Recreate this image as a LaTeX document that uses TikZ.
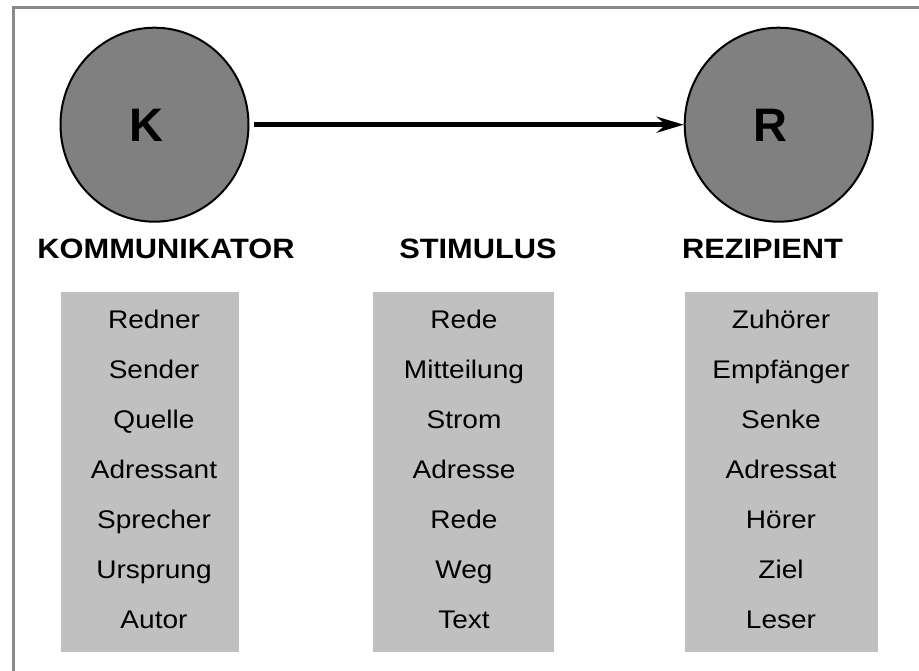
\documentclass[tikz,border=0pt]{standalone}
\usepackage{fontspec}
\setmainfont{Liberation Sans}[FakeStretch=1.1]
\newfontfamily\letterfont{Liberation Sans}
\usetikzlibrary{arrows.meta,shapes.geometric}
\definecolor{circgray}{HTML}{808080}
\definecolor{boxgray}{HTML}{C0C0C0}
\definecolor{framegray}{HTML}{8A8A8A}
\begin{document}
\begin{tikzpicture}[x=1pt,y=-1pt,
  agent/.style={ellipse, draw=black, line width=2pt, fill=circgray,
    minimum width=188pt, minimum height=194pt, inner sep=0pt},
  letter/.style={anchor=base, inner sep=0pt,
    font=\letterfont\bfseries\fontsize{47}{50}\selectfont},
  role/.style={anchor=base, inner sep=0pt,
    font=\bfseries\fontsize{28}{32}\selectfont},
  listbox/.style={rectangle, fill=boxgray, draw=none, inner sep=0pt,
    minimum height=360pt},
  item/.style={anchor=base, inner sep=0pt,
    font=\fontsize{25.5}{30}\selectfont},
  flow/.style={line width=4.5pt, -{Stealth[length=27pt,width=16pt,inset=9pt]}}
]
\useasboundingbox (0,0) rectangle (919,670);
\fill[white] (0,0) rectangle (919,670);

% frame (top and left edges only)
\coordinate (fa) at (13.3,672);
\coordinate (fb) at (13.3,7.5);
\coordinate (fc) at (921,7.5);
\draw[framegray, line width=3pt] (fa) -- (fb) -- (fc);

% agents
\node[agent] (K) at (154.5,124.7) {};
\node[agent] (R) at (778.7,124.7) {};
\node[letter] (Kl) at (146,141) {K};
\node[letter] (Rl) at (770,141) {R};
\draw[flow, shorten <=4pt] (K.east) -- (R.west);

% role labels
\node[role] (lk) at (166,258.3) {KOMMUNIKATOR};
\node[role] (ls) at (478,258.3) {STIMULUS};
\node[role] (lr) at (762.5,258.3) {REZIPIENT};

% boxes
\node[listbox, minimum width=178.6pt] (b1) at (150,472) {};
\node[listbox, minimum width=181.6pt] (b2) at (463.5,472) {};
\node[listbox, minimum width=192.7pt] (b3) at (781.3,472) {};

% items
\foreach \t [count=\i] in {Redner,Sender,Quelle,Adressant,Sprecher,Ursprung,Autor}
  \node[item] (a\i) at (154,{328.2+50*(\i-1)}) {\t};
\foreach \t [count=\i] in {Rede,Mitteilung,Strom,Adresse,Rede,Weg,Text}
  \node[item] (s\i) at (464,{328.2+50*(\i-1)}) {\t};
\foreach \t [count=\i] in {Zuhörer,Empfänger,Senke,Adressat,Hörer,Ziel,Leser}
  \node[item] (r\i) at (781,{328.2+50*(\i-1)}) {\t};
\end{tikzpicture}
\end{document}
